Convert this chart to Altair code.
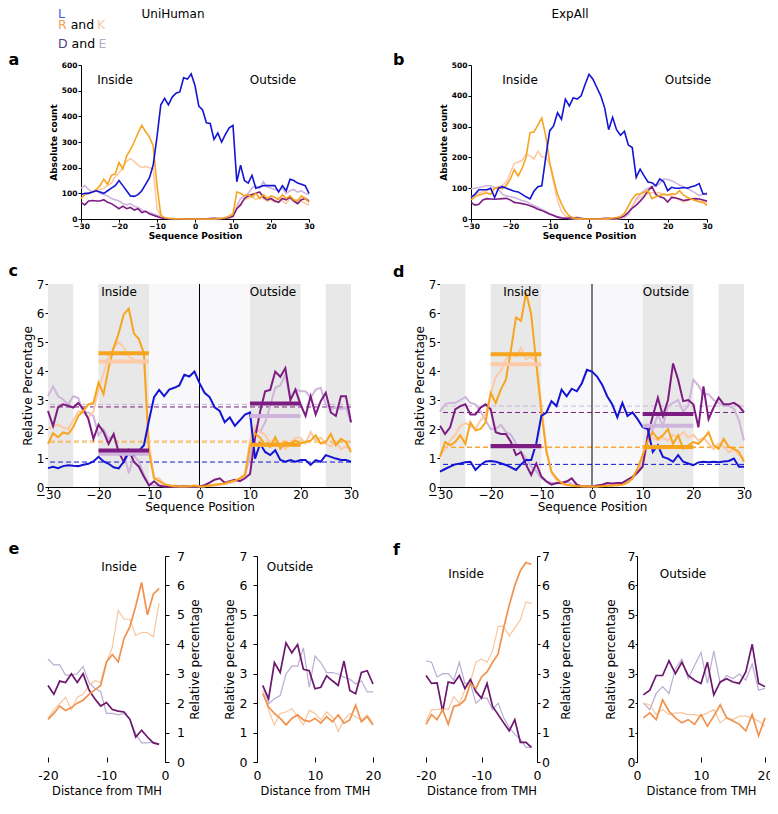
import altair as alt
import pandas as pd

FONT = "DejaVu Sans"
POS = list(range(-30, 31))
IN20 = list(range(-20, 0))
OUT20 = list(range(1, 21))

# ---------- panel a : UniHuman absolute counts ----------
A_L = [95,100,100,105,110,105,100,110,120,130, 150,130,110,90,88,95,110,135,160,210,
       320,445,470,445,475,490,495,550,545,565, 520,440,425,375,372,310,335,300,330,355,
       365,145,210,150,140,170,120,125,130,130, 130,130,105,130,110,155,150,140,135,130,100]
A_R = [80,95,100,105,115,130,155,135,170,175, 220,195,245,270,300,335,365,340,320,285,
       130,15,5,3,2,1,1,0,0,0, 0,0,0,0,0,0,2,3,5,12,
       20,105,100,90,95,85,100,80,95,80, 90,85,75,95,80,90,75,70,90,80,65]
A_K = [80,95,100,105,110,115,120,130,140,165, 180,200,225,235,225,210,200,205,200,195,
       40,10,4,2,1,1,0,0,0,0, 0,0,0,0,0,0,1,2,4,8,
       15,45,60,75,80,90,75,85,80,70, 75,65,85,70,60,80,70,75,70,60,55]
A_E = [120,130,115,105,110,100,95,90,80,75, 70,60,55,60,50,45,35,30,25,20,
       15,10,5,3,2,1,1,1,1,1, 1,1,1,1,1,2,2,3,5,8,
       15,50,80,90,100,120,130,120,145,125, 120,115,110,120,100,110,115,105,110,100,95]
A_D = [65,55,70,72,70,70,75,65,60,50, 40,50,40,45,35,40,25,30,20,15,
       10,5,2,1,1,1,0,0,0,0, 0,0,1,1,2,3,2,1,2,5,
       10,40,55,80,90,95,100,105,85,75, 80,70,65,80,75,85,70,60,75,80,70]

# ---------- panel b : ExpAll absolute counts ----------
B_L = [70,80,95,95,95,100,70,100,105,100, 95,90,88,80,72,65,90,105,108,200,
       286,302,345,324,389,367,394,389,400,437, 470,454,427,400,360,290,330,290,272,285,
       240,232,135,162,140,120,118,108,130,121, 92,103,100,100,102,100,105,108,115,81,81]
B_R = [62,72,78,81,85,80,100,103,98,110, 130,160,140,165,200,280,282,305,328,270,
       184,130,80,50,25,10,4,2,1,0, 0,0,0,0,1,2,3,5,8,18,
       42,65,80,82,86,92,66,72,76,80, 78,82,80,92,78,70,65,60,56,54,44]
B_K = [72,78,85,88,92,97,100,105,110,120, 150,180,185,190,210,205,195,220,202,200,
       178,120,60,25,10,5,2,1,0,0, 0,0,0,0,0,0,1,1,3,8,
       22,40,60,70,78,82,85,86,84,81, 78,75,70,62,55,60,65,62,58,55,52]
B_E = [98,100,102,105,108,108,102,95,80,75, 72,70,65,60,57,50,43,38,30,25,
       16,12,8,5,3,2,1,1,1,0, 0,0,0,0,0,1,1,1,2,5,
       15,40,65,80,92,100,105,108,115,130, 128,124,118,110,105,100,92,85,76,80,86]
B_D = [54,45,48,62,66,65,64,65,66,67, 62,54,52,50,47,43,38,32,28,22,
       16,11,6,3,2,3,4,5,2,1, 0,0,1,1,2,2,1,2,5,10,
       22,35,45,58,72,92,105,80,72,68, 55,70,68,65,60,62,65,66,65,62,58]

# ---------- panel c : UniHuman relative percentage ----------
C_L = [.65,.7,.65,.72,.75,.73,.72,.77,.8,.88, 1.04,.88,.8,.68,.64,.87,1.2,1.1,1.25,1.44,
       2.3,3.1,3.35,3.13,3.36,3.42,3.5,3.87,3.81,3.98, 3.58,3.25,3.1,2.75,2.62,2.23,2.4,2.11,2.3,2.5,
       2.57,.98,1.49,1.21,1.1,1.27,.93,.87,.93,.87, .93,.93,.76,.93,.87,1.1,1.04,.98,.93,.93,.87]
C_R = [1.49,1.85,1.72,1.88,1.83,2.06,2.45,2.62,2.85,2.9, 3.6,3.2,4.1,4.8,5.3,5.95,6.15,5.3,5.1,4.6,
       1.2,.3,.2,.1,.05,.03,.02,.02,.03,.05, .02,.03,.05,.08,.1,.12,.18,.22,.3,.42,
       1.4,1.85,1.7,1.45,1.38,1.72,1.32,1.55,1.5,1.6, 1.5,1.55,1.6,1.78,1.5,1.55,1.83,1.44,1.66,1.55,1.2]
C_K = [2.0,2.1,2.15,2.05,2.0,2.3,2.6,2.6,2.4,2.6, 3.4,3.9,4.5,4.8,5.0,4.8,4.5,4.4,4.3,4.3,
       1.5,.3,.3,.1,.05,.05,.03,.03,.03,.03, .03,.03,.05,.05,.08,.1,.15,.2,.3,.4,
       1.6,2.1,1.9,1.8,1.5,1.6,1.5,1.3,1.5,1.7, 1.7,1.5,1.9,1.6,1.7,1.5,1.4,1.6,1.3,1.4,1.3]
C_D = [2.62,2.1,2.75,2.85,2.8,2.74,2.9,2.68,2.34,1.66, 2.15,1.9,1.49,1.83,1.2,.87,1.27,.87,.7,.35,
       .05,.2,.05,.02,.02,.02,.02,.02,.02,.02, .02,.06,.15,.25,.3,.15,.2,.25,.2,.3,
       .45,1.7,2.6,3.3,3.35,3.98,3.8,4.1,3.0,3.36, 2.85,2.45,3.13,2.5,2.96,3.25,2.57,2.45,3.13,3.13,2.23]
C_E = [3.13,3.47,3.13,3.02,2.85,3.13,3.07,2.57,2.57,2.45, 1.78,2.0,1.66,1.78,1.21,1.2,.47,1.1,.87,.42,
       .08,.05,.04,.03,.03,.02,.02,.02,.02,.02, .02,.03,.05,.05,.1,.1,.15,.2,.3,.42,
       1.0,2.0,1.9,2.23,2.8,3.42,3.5,3.87,3.02,3.36, 3.3,3.3,3.07,3.36,3.42,2.85,2.68,2.74,2.68,2.74,2.23]
C_MEAN_IN = {"K": 4.33, "E": 1.15, "R": 4.61, "D": 1.26}
C_MEAN_OUT = {"K": 1.45, "E": 2.45, "R": 1.46, "D": 2.88}
C_DASH = {"E": 2.85, "D": 2.76, "K": 1.6, "R": 1.55, "L": 0.86}

# ---------- panel d : ExpAll relative percentage ----------
D_L = [.53,.62,.7,.78,.81,.85,.87,.59,.76,.88, .9,.87,.82,.76,.68,.59,.78,.93,.93,1.5,
       2.45,2.57,2.96,2.79,3.36,3.13,3.39,3.3,3.58,4.04, 3.98,3.81,3.53,3.13,2.85,2.4,2.9,2.45,2.57,2.34,
       2.06,2.0,1.21,1.44,1.04,.98,.87,1.1,.87,.81, .75,.85,.87,.85,.87,.85,.88,.9,.98,.7,.7]
D_R = [1.04,1.55,1.44,1.55,1.78,1.49,2.23,1.95,2.0,2.23, 3.25,2.9,3.36,3.7,4.72,5.85,5.73,6.7,5.96,4.26,
       2.62,1.21,.53,.3,.14,.08,.05,.03,.03,.02, .02,.02,.03,.04,.05,.06,.08,.15,.3,.64,
       1.1,1.6,1.89,1.66,1.78,2.0,1.49,1.78,1.32,1.44, 1.55,1.49,1.66,1.89,1.44,1.32,1.66,1.38,1.32,1.21,.87]
D_K = [1.1,1.3,1.6,1.8,2.1,2.2,2.1,2.0,2.3,2.5, 3.2,3.8,4.0,4.4,4.6,4.5,4.8,4.4,4.5,4.3,
       2.8,1.3,.5,.25,.1,.06,.05,.04,.03,.03, .03,.03,.04,.05,.06,.08,.1,.15,.3,.6,
       1.0,1.5,1.7,1.6,1.7,1.6,1.8,1.7,1.9,1.7, 1.8,1.6,1.7,1.5,1.3,1.5,1.4,1.2,1.3,1.1,1.0]
D_D = [2.11,1.83,2.06,2.68,2.79,2.85,2.5,2.5,2.74,2.85, 2.68,1.89,1.83,1.83,1.55,1.1,1.2,.76,.42,.81,
       .36,.19,.08,.14,.14,.19,.3,.08,.02,.02, .02,.05,.08,.14,.12,.14,.14,.25,.35,.5,
       .7,1.78,2.45,3.08,2.45,3.0,4.26,3.7,2.96,3.0, 2.85,2.06,3.47,2.34,2.74,3.08,2.85,2.85,2.9,2.79,2.57]
D_E = [2.6,2.85,2.9,2.9,3.0,3.1,2.9,2.85,2.6,2.3, 2.0,2.0,2.15,1.9,1.8,1.5,1.2,1.0,.7,.55,
       .3,.2,.15,.12,.15,.2,.1,.05,.03,.03, .03,.03,.04,.05,.06,.08,.1,.15,.3,.5,
       .8,1.5,2.0,2.5,2.1,2.8,2.9,3.0,2.6,2.8, 3.7,3.5,3.2,3.2,3.0,2.9,2.8,2.8,2.7,2.3,1.6]
D_MEAN_IN = {"K": 4.23, "E": 1.38, "R": 4.58, "D": 1.41}
D_MEAN_OUT = {"K": 1.37, "E": 2.11, "R": 1.38, "D": 2.52}
D_DASH = {"E": 2.79, "D": 2.57, "K": 1.4, "R": 1.36, "L": 0.78}

# ---------- panel e : UniHuman distance from TMH ----------
EI_R = [1.45,1.65,1.9,1.75,1.85,2.0,2.1,2.3,2.45,2.6,3.4,3.65,3.4,4.2,4.6,5.3,6.1,5.0,5.7,5.9]
EI_K = [1.48,1.77,1.98,2.2,1.77,2.2,2.3,2.6,2.76,2.7,3.4,3.9,5.15,4.85,4.85,4.3,4.4,4.4,4.25,5.4]
EI_D = [2.6,2.3,2.75,2.7,3.0,2.7,3.0,2.45,2.15,1.9,2.02,1.78,1.73,1.7,1.45,0.85,1.08,0.85,0.65,0.6]
EI_E = [3.5,3.3,3.3,2.95,2.95,3.0,3.25,2.7,2.5,2.4,1.65,1.65,1.6,1.65,1.45,0.95,0.65,0.65,0.68,0.62]
EO_D = [2.6,2.15,3.38,3.04,4.05,3.71,3.99,3.15,3.1,2.49,2.54,2.93,2.76,2.6,3.43,2.43,2.32,3.04,3.1,2.65]
EO_E = [2.6,1.98,2.15,2.26,2.99,3.26,3.26,3.88,2.54,3.6,3.38,3.04,3.04,2.99,2.88,2.82,2.65,2.76,2.38,2.38]
EO_R = [2.32,1.87,1.65,1.48,1.26,1.48,1.6,1.43,1.37,1.48,1.32,1.54,1.37,1.6,1.32,1.43,1.93,1.37,1.54,1.26]
EO_K = [2.43,1.76,1.26,1.65,1.7,1.82,1.54,1.26,1.76,1.65,1.43,1.7,1.54,1.04,1.43,1.65,1.54,1.43,1.6,1.32]

# ---------- panel f : ExpAll distance from TMH ----------
FI_R = [1.28,1.61,1.44,1.78,1.28,1.89,1.94,2.11,2.67,2.5,2.89,3.06,3.39,3.67,4.56,5.33,6.0,6.5,6.78,6.72]
FI_K = [1.39,1.78,1.78,1.83,1.78,2.22,2.0,2.44,2.72,3.39,3.5,3.39,3.78,4.61,4.61,4.28,4.56,4.83,5.44,5.39]
FI_D = [2.94,2.67,2.69,1.72,2.72,2.67,2.94,2.5,2.8,2.39,2.17,2.67,1.89,1.61,1.33,1.06,1.44,0.67,0.67,0.5]
FI_E = [3.44,3.39,2.89,3.0,3.0,2.78,3.39,2.67,2.67,2.0,2.17,2.17,1.78,2.0,1.5,1.17,0.94,0.78,0.5,0.5]
FO_D = [2.28,2.44,2.94,2.94,3.44,3.0,3.39,2.94,2.78,2.67,3.39,2.28,2.72,2.83,2.72,2.67,3.06,4.0,2.67,2.56]
FO_E = [2.0,1.78,2.33,2.56,2.33,3.17,3.5,2.83,3.28,3.72,2.67,3.78,2.67,2.94,2.83,3.0,2.78,3.33,2.44,2.5]
FO_R = [1.5,1.67,1.44,2.11,1.72,1.5,1.33,1.44,1.28,1.61,1.22,1.56,1.94,1.5,1.39,1.28,1.06,1.61,0.89,1.5]
FO_K = [2.0,1.94,1.61,1.78,1.61,1.67,1.67,1.61,1.61,1.56,1.67,1.78,1.33,1.5,1.44,1.56,1.56,1.5,1.39,1.22]

BANDS = [(-30, -25, "g"), (-20, -10, "g"), (-10, 10, "f"), (10, 20, "g"), (25, 30, "g")]
IN_RANGE = (-20, -10)
OUT_RANGE = (10, 20)

COL = {"L": "#1414d4", "R": "#f7a51e", "K": "#fccaa6", "D": "#7c1c82", "E": "#cfb5db"}
COL2 = {"R": "#f0924d", "K": "#f8c69e", "D": "#6c176e", "E": "#b8add1"}
BAND_COL = {"g": "#e8e8e8", "f": "#f8f8fa"}

H_AB, H_CD, H_EF = 154, 203, 206


def txt(text, x, y, size=12, color="black", weight="normal", align="center"):
    return alt.Chart(pd.DataFrame({"t": [text]})).mark_text(
        font=FONT, fontSize=size, color=color, fontWeight=weight,
        align=align, baseline="alphabetic"
    ).encode(text="t:N", x=alt.value(x), y=alt.value(y))


def line(xs, ys, X, Y, color, width):
    return alt.Chart(pd.DataFrame({"x": xs, "y": ys})).mark_line(
        color=color, strokeWidth=width, interpolate="linear"
    ).encode(x=X, y=Y)


def ab_axes(ymax):
    X = alt.X("x:Q", scale=alt.Scale(domain=[-30, 30], nice=False, zero=False),
              axis=alt.Axis(values=[-30, -20, -10, 0, 10, 20, 30], title="Sequence Position",
                            labelFontSize=7.5, labelFontWeight="bold", titleFontSize=9,
                            titleFontWeight="bold", tickSize=3, labelPadding=0, titlePadding=2))
    Y = alt.Y("y:Q", scale=alt.Scale(domain=[0, ymax], nice=False),
              axis=alt.Axis(values=list(range(0, ymax + 1, 100)), title="Absolute count",
                            labelFontSize=7.5, labelFontWeight="bold", titleFontSize=9,
                            titleFontWeight="bold", tickSize=3, labelPadding=1, titlePadding=3))
    return X, Y


def cd_axes():
    X = alt.X("x:Q", scale=alt.Scale(domain=[-30, 30], nice=False, zero=False),
              axis=alt.Axis(values=[-30, -20, -10, 0, 10, 20, 30], title="Sequence Position",
                            labelFontSize=12, titleFontSize=12, titleFontWeight="normal",
                            tickSize=2, labelPadding=0, titlePadding=1))
    Y = alt.Y("y:Q", scale=alt.Scale(domain=[0, 7], nice=False),
              axis=alt.Axis(values=list(range(8)), title="Relative Percentage",
                            labelFontSize=12, titleFontSize=12, titleFontWeight="normal",
                            tickSize=3, labelPadding=1, titlePadding=2))
    return X, Y


def abs_panel(ymax, data, w, extra):
    X, Y = ab_axes(ymax)
    layers = []
    for k in ["E", "K", "D", "R", "L"]:
        layers.append(line(POS, data[k], X, Y, COL[k], 1.6))
    return alt.layer(*layers, *extra).properties(width=w, height=H_AB)


def rel_panel(data, means_in, means_out, dashes, w, extra):
    X, Y = cd_axes()
    bands = pd.DataFrame({"x": [b[0] for b in BANDS], "x2": [b[1] for b in BANDS],
                          "y": [0] * len(BANDS), "y2": [7] * len(BANDS),
                          "c": [BAND_COL[b[2]] for b in BANDS]})
    layers = [alt.Chart(bands).mark_rect().encode(
        x=X, x2="x2:Q", y=Y, y2="y2:Q", color=alt.Color("c:N", scale=None))]
    for k in ["E", "D", "K", "R", "L"]:
        layers.append(alt.Chart(pd.DataFrame({"y": [dashes[k]]})).mark_rule(
            color=COL[k], strokeWidth=1, strokeDash=[5, 3]).encode(y=Y))
    layers.append(alt.Chart(pd.DataFrame({"x": [0]})).mark_rule(
        color="black", strokeWidth=1).encode(x=X))
    for k in ["E", "K", "D", "R", "L"]:
        layers.append(line(POS, data[k], X, Y, COL[k], 2))
    for rng, means in [(IN_RANGE, means_in), (OUT_RANGE, means_out)]:
        for k in ["K", "E", "R", "D"]:
            layers.append(alt.Chart(pd.DataFrame({"x": [rng[0]], "x2": [rng[1]], "y": [means[k]]}))
                          .mark_rule(color=COL[k], strokeWidth=4, strokeCap="butt")
                          .encode(x=X, x2="x2:Q", y=Y))
    return alt.layer(*layers, *extra).properties(width=w, height=H_CD)


def dist_panel(xs, dom, vals, data, w, yorient, tick, lpad, tpad, extra):
    X = alt.X("x:Q", scale=alt.Scale(domain=dom, nice=False, zero=False),
              axis=alt.Axis(values=vals, labelExpr="toString(datum.value)", domain=False,
                            tickSize=5, offset=-5, labelPadding=7, title="Distance from TMH",
                            labelFontSize=12.5, titleFontSize=11.5, titleFontWeight="normal",
                            titlePadding=4))
    yax = dict(orient=yorient, values=list(range(8)), title="Relative percentage",
               labelFontSize=12.5, titleFontSize=12, titleFontWeight="normal",
               tickSize=tick, labelPadding=lpad, titlePadding=tpad)
    if yorient == "right":
        yax.update(titleAngle=270, titleBaseline="top")
    Y = alt.Y("y:Q", scale=alt.Scale(domain=[0, 7], nice=False), axis=alt.Axis(**yax))
    layers = []
    for k, sw in [("E", 1.2), ("K", 1.2), ("D", 1.7), ("R", 1.7)]:
        layers.append(line(xs, data[k], X, Y, COL2[k], sw))
    return alt.layer(*layers, *extra).properties(width=w, height=H_EF)


def gap(w, h):
    return alt.Chart(pd.DataFrame({"v": [0]})).mark_point(opacity=0, size=1).encode(
        x=alt.value(0), y=alt.value(0)).properties(width=w, height=h)


# ---------- annotations (pixel offsets from each panel's plot corner) ----------
legend = [
    txt("L", -23, -47, 12.5, "#5252e6", align="left"),
    txt("R", -23, -36, 12.5, "#f4a05a", align="left"),
    txt("and", -10.3, -36, 12.5, "black", align="left"),
    txt("K", 16, -36, 12.5, "#f8c7a2", align="left"),
    txt("D", -23, -17, 12.5, "#4f3f80", align="left"),
    txt("and", -9.4, -17, 12.5, "black", align="left"),
    txt("E", 17.5, -17, 12.5, "#b6abcf", align="left"),
]

pa = abs_panel(600, {"L": A_L, "R": A_R, "K": A_K, "D": A_D, "E": A_E}, 228,
               legend + [txt("a", -72.5, 0, 16, weight="bold", align="left"),
                         txt("UniHuman", 92, -46.7, 12),
                         txt("Inside", 34, 19, 12), txt("Outside", 192, 19, 12)])
pb = abs_panel(500, {"L": B_L, "R": B_R, "K": B_K, "D": B_D, "E": B_E}, 236,
               [txt("b", -78, 0, 16, weight="bold", align="left"),
                txt("ExpAll", 99, -46.7, 12),
                txt("Inside", 49, 19, 12), txt("Outside", 217, 19, 12)])
pc = rel_panel({"L": C_L, "R": C_R, "K": C_K, "D": C_D, "E": C_E},
               C_MEAN_IN, C_MEAN_OUT, C_DASH, 303,
               [txt("c", -39.5, -8, 16, weight="bold", align="left"),
                txt("Inside", 71, 12, 12), txt("Outside", 225, 12, 12)])
pd_ = rel_panel({"L": D_L, "R": D_R, "K": D_K, "D": D_D, "E": D_E},
                D_MEAN_IN, D_MEAN_OUT, D_DASH, 304,
                [txt("d", -47, -7, 16, weight="bold", align="left"),
                 txt("Inside", 81, 12, 12), txt("Outside", 226, 12, 12)])

pe_in = dist_panel(IN20, [-20, 0], [-20, -10, 0],
                   {"R": EI_R, "K": EI_K, "D": EI_D, "E": EI_E}, 117, "right", 4, 7.5, 5,
                   [txt("e", -39.5, -2, 16, weight="bold", align="left"), txt("Inside", 71, 14.7, 12)])
pe_out = dist_panel(OUT20, [0, 20], [0, 10, 20],
                    {"R": EO_R, "K": EO_K, "D": EO_D, "E": EO_E}, 116, "left", 4, 6, 2.7,
                    [txt("Outside", 33, 14.7, 12)])
pf_in = dist_panel(IN20, [-20, 0], [-20, -10, 0],
                   {"R": FI_R, "K": FI_K, "D": FI_D, "E": FI_E}, 111, "right", 3, 1.5, 11,
                   [txt("f", -33, -1, 16, weight="bold", align="left"), txt("Inside", 40, 22, 12)])
pf_out = dist_panel(OUT20, [0, 20], [0, 10, 20],
                    {"R": FO_R, "K": FO_K, "D": FO_D, "E": FO_E}, 128, "left", 2, 0, 10,
                    [txt("Outside", 46, 22, 12)])

# rows: flat flush hconcats whose gaps are empty cells; rows stacked with full bounds
row1 = alt.hconcat(gap(33, H_AB), pa, gap(162, H_AB), pb, spacing=0, bounds="flush")
row2 = alt.hconcat(pc, gap(89, H_CD), pd_, spacing=0, bounds="flush")
row3 = alt.hconcat(pe_in, gap(92, H_EF), pe_out, gap(53, H_EF), pf_in, gap(100, H_EF), pf_out,
                   spacing=0, bounds="flush")

chart = alt.vconcat(alt.vconcat(row1, row2, spacing=22), row3, spacing=29).properties(
    padding={"left": 0, "top": 0, "right": -3, "bottom": -1}
).configure_view(stroke=None).configure_axis(
    labelFont=FONT, titleFont=FONT, grid=False, domainColor="black", tickColor="black",
    labelColor="black", titleColor="black", labelFlush=False, labelOverlap=False
).configure_text(font=FONT)

chart.save("out.html", embed_options={"renderer": "svg", "actions": False})
